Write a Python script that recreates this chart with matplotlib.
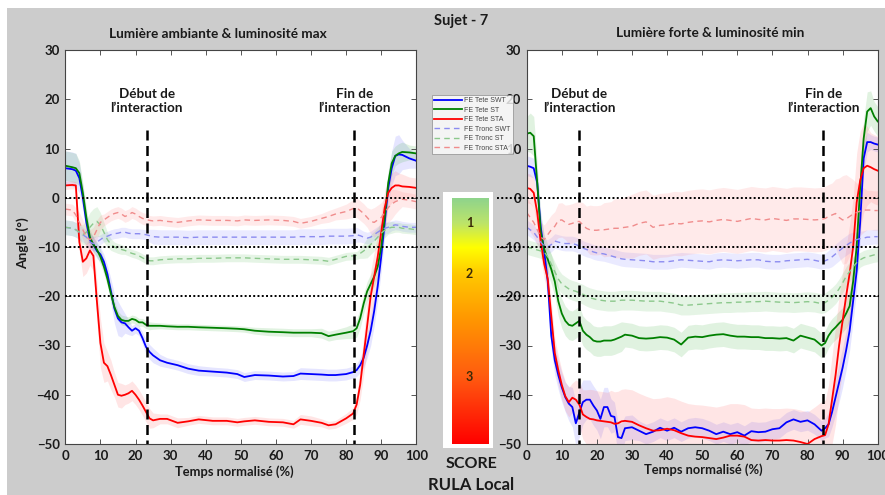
import numpy as np
import matplotlib
matplotlib.use("Agg")
import matplotlib.pyplot as plt
from matplotlib.colors import LinearSegmentedColormap
from matplotlib.patches import Rectangle

plt.rcParams['font.family'] = ['Lato', 'DejaVu Sans']

# ---- data : left panel (Lumiere ambiante & luminosite max) ----
tL = [0, 2, 3, 4, 5, 6, 7, 8, 9, 10,
      11, 12, 13, 14, 15, 16, 17, 18, 19, 20,
      21, 22, 23, 24, 25, 27, 29, 32, 35, 38,
      42, 46, 49, 51, 54, 58, 62, 65, 67, 70,
      73, 75, 77, 80, 82, 83, 84, 85, 86, 87,
      88, 89, 90, 91, 92, 93, 94, 95, 96, 98,
      100]

head_swt_L = [6, 5.8, 5.5, 4, 0, -5, -8.5, -9.5, -10.8, -11.5,
              -13, -15.5, -19, -22.5, -24.5, -25.3, -25.5, -26.3, -27, -26.5,
              -27, -28.5, -30.3, -31.3, -32, -33, -33.5, -34, -34.7, -35.1,
              -35.3, -35.5, -35.8, -36.4, -36, -36.1, -36.3, -36.2, -35.7, -35.8,
              -35.9, -36, -36, -35.8, -35.4, -35, -34, -32.5, -30, -27,
              -23, -18, -12, -5, 2, 6, 8.5, 8.8, 8.7, 8,
              7.5]
head_st_L = [6.5, 6.2, 6, 5, 1, -4, -8, -9.5, -10.5, -12,
             -14, -16.5, -19.5, -22.2, -24, -24.8, -25, -25, -24.6, -24.8,
             -25.3, -25.3, -25.8, -26, -26, -26, -26.1, -26.2, -26.2, -26.3,
             -26.4, -26.5, -26.6, -26.7, -27, -27.2, -27.3, -27.4, -27.4, -27.4,
             -27.5, -28.1, -27.8, -27.4, -27.1, -26.5, -24.5, -21.5, -19, -17.5,
             -16, -14, -10, -4, 3, 7, 8.5, 9, 9.3, 9.2,
             9]
head_sta_L = [2.5, 2.6, 2.5, -9, -13, -12.3, -10.7, -11.8, -21, -29.5,
              -33.5, -34.2, -36, -38, -40, -40.2, -40, -39.7, -39.2, -40,
              -41, -42.2, -43.5, -44.8, -45.2, -44.9, -44.9, -45.7, -45.4, -45,
              -45.3, -45.3, -45.6, -45.4, -45.2, -45.5, -45.6, -46, -45, -45.3,
              -45.7, -46.2, -46, -44.8, -43.8, -42, -38, -32, -26, -20,
              -16, -12, -7, -2, 1, 2, 2.5, 2.5, 2.3, 2.2,
              2]
trunk_swt_L = [-6, -6.2, -6.5, -7, -7.5, -8, -9, -9.3, -9, -8.5,
               -8, -7.8, -7.5, -7.3, -7.2, -7, -7, -7.2, -7.3, -7.3,
               -7.3, -7.4, -7.5, -7.7, -7.9, -8, -8, -8, -8.1, -8,
               -8, -8, -8, -8, -8, -8, -8, -8, -7.9, -7.9,
               -7.9, -7.8, -7.8, -7.8, -7.7, -7.5, -7.7, -8, -8.2, -8,
               -7.5, -7, -6.5, -6.2, -6, -5.7, -5.5, -5.6, -5.8, -6,
               -6]
trunk_st_L = [-6, -6.2, -6.5, -7, -7.5, -7, -6, -5.2, -4.8, -5.5,
              -7, -8.5, -9.5, -10, -10.3, -10.5, -10.7, -11, -11.3, -11.5,
              -11.8, -12.2, -12.6, -12.8, -12.8, -12.6, -12.5, -12.4, -12.4, -12.3,
              -12.3, -12.2, -12.2, -12.2, -12.3, -12.4, -12.5, -12.5, -12.5, -12.6,
              -12.7, -12.9, -12.5, -11.9, -11.8, -11.7, -11.3, -10.8, -10.2, -9.5,
              -8.8, -8, -7.2, -6.6, -6.2, -6, -6, -6, -6.2, -6.3,
              -6.5]
trunk_sta_L = [-2.3, -2.5, -3.5, -5, -6.5, -8, -8.5, -8, -6.5, -5,
               -4.5, -4, -3.5, -3.2, -3, -3.3, -3.8, -3.5, -3, -3.3,
               -3.8, -4.2, -4.4, -4.6, -4.7, -4.6, -4.8, -5, -4.7, -4.5,
               -4.6, -4.6, -4.7, -4.5, -4.6, -4.5, -4.6, -4.8, -5.2, -4.8,
               -4.2, -3.8, -3.3, -2.8, -2.2, -2, -2.6, -3.2, -4, -4.8,
               -5, -4.5, -4, -3, -2, -1.3, -0.8, -0.5, -0.3, -0.5,
               -0.8]

sd_head_swt_L = [3.5, 3.5, 3.5, 3, 2.5, 2, 1.5, 1.5, 1.5, 1.5,
                 1.5, 1.8, 2.5, 3, 3.5, 3, 2, 1.5, 1, 1,
                 1, 1.2, 1.5, 1.5, 1.5, 1.2, 1, 1, 1, 1,
                 0.9, 0.9, 0.9, 0.9, 0.9, 0.9, 0.9, 0.9, 1.2, 1.2,
                 1.2, 1.2, 1.2, 1.2, 1.2, 1.3, 1.5, 2, 2.5, 3,
                 3, 3, 3, 3, 3, 3.5, 4, 4, 3, 2,
                 1.5]
sd_head_st_L = [3, 3, 3, 2.5, 2, 2, 1.5, 1.5, 1.5, 1.5,
                1.5, 1.5, 1.5, 1.2, 1, 1, 1, 0.8, 0.8, 0.8,
                0.8, 0.8, 0.8, 0.8, 0.7, 0.6, 0.6, 0.6, 0.6, 0.6,
                0.6, 0.6, 0.6, 0.6, 0.7, 0.8, 0.8, 0.8, 0.8, 0.8,
                1, 1, 1, 1.2, 1.5, 1.8, 2, 2, 2, 2,
                2, 2, 2, 2.5, 2.5, 2.5, 2, 2, 2, 1.5,
                1.5]
sd_head_sta_L = [0.8, 0.8, 0.8, 2, 3, 3, 3, 3, 4, 5,
                 4, 3, 3, 2.5, 2.5, 2.5, 2, 2, 2, 2,
                 2, 2, 2, 2, 1.5, 1, 1, 1, 0.8, 0.8,
                 0.8, 0.8, 0.8, 0.8, 0.8, 0.8, 0.8, 0.8, 1, 1,
                 0.8, 0.8, 0.8, 1, 1.2, 2, 3, 4, 5, 5,
                 5, 4.5, 4, 3.5, 3, 3, 3, 2.5, 2.5, 2,
                 2]
sd_trunk_swt_L = [1.5, 1.5, 1.5, 1.5, 1.5, 1.5, 1.5, 1.5, 1.2, 1,
                  1, 1, 1, 1, 1, 1, 1, 1, 1, 1,
                  1, 1, 1, 1.3, 1.5, 1.5, 1.5, 1.5, 1.5, 1.5,
                  1.5, 1.5, 1.5, 1.5, 1.5, 1.5, 1.5, 1.5, 1.6, 1.6,
                  1.6, 1.6, 1.6, 1.6, 1.6, 1.5, 1.3, 1.2, 1.2, 1.2,
                  1.2, 1.2, 1.2, 1.2, 1.2, 1, 1, 1, 1, 1,
                  1]
sd_trunk_st_L = [1.5, 1.5, 1.5, 1.5, 2, 2.5, 3, 3, 3, 2.5,
                 2, 1.5, 1.2, 1, 1, 1, 0.8, 0.8, 0.8, 0.8,
                 0.8, 0.8, 0.8, 0.8, 0.8, 0.8, 0.8, 0.8, 0.8, 0.8,
                 0.8, 0.8, 0.8, 0.8, 0.8, 0.8, 0.8, 0.8, 0.8, 0.8,
                 0.8, 0.8, 0.8, 0.8, 0.8, 0.8, 1, 1.5, 2, 2,
                 2, 2, 2, 1.5, 1.2, 1.2, 1, 1, 1, 1,
                 1]
sd_trunk_sta_L = [1.2, 1.2, 1.5, 2, 2, 2, 2, 2, 2, 1.5,
                  1.2, 1.2, 1.2, 1.2, 1.2, 1.2, 1.2, 1.2, 1.2, 1.2,
                  1.2, 1.2, 1.2, 1, 1, 1, 1, 1, 1, 1,
                  1, 1, 1, 1, 1, 1, 1, 1, 1, 1,
                  1, 1.2, 1.2, 1.5, 1.8, 2, 2, 2, 2, 2.5,
                  3, 3, 3, 3, 3, 3, 2.5, 2, 1.5, 1.5,
                  1.5]

# ---- data : right panel (Lumiere forte & luminosite min) ----
tR = [0, 1, 2, 3, 4, 5, 6, 7, 8, 9,
      10, 11, 12, 13, 14, 15, 16, 17, 18, 19,
      20, 21, 22, 23, 24, 25, 26, 27, 28, 30,
      32, 34, 36, 38, 40, 42, 44, 46, 48, 50,
      52, 54, 56, 58, 60, 62, 64, 66, 68, 70,
      72, 74, 76, 78, 80, 82, 84, 85, 86, 87,
      88, 89, 90, 91, 92, 93, 94, 95, 96, 97,
      98, 99, 100]

head_swt_R = [6.5, 6.3, 6, 3, -6, -11, -17, -28, -33, -36,
              -38.5, -40.5, -41.8, -42.5, -45.8, -43.6, -41.5, -41, -41, -42.2,
              -43.2, -44.9, -42.5, -42.5, -44.3, -44.5, -48.6, -48.8, -46.8, -46.6,
              -47.3, -48, -47.5, -46.7, -47.3, -46.7, -47.5, -46.8, -46.6, -46.8,
              -47.3, -48, -47.5, -48, -47.6, -48.3, -47.4, -47.6, -47.5, -47,
              -46.8, -45.6, -45, -45.5, -45.2, -46, -47.3, -46.8, -46, -43.5,
              -40.5, -37.5, -34.5, -31, -27, -21, -15, -5, 8, 11.3,
              11.3, 11, 10.8]
head_st_R = [13, 13.2, 12.5, 3, -7, -10.5, -12.5, -14.5, -17, -21,
             -23.5, -25, -25.8, -26, -25.5, -25, -27, -27.8, -28.3, -29,
             -29.2, -29.2, -29, -29, -29, -28.8, -28.5, -28.2, -27.8, -28,
             -28.5, -28.6, -28.5, -28.3, -28.4, -28.8, -29.8, -28.4, -28.2, -28.3,
             -28, -27.8, -27.7, -28, -28.2, -28.2, -28.3, -28.3, -28.5, -28.5,
             -28.6, -28.5, -29, -28, -28.4, -28.8, -30, -29.5, -28, -27,
             -26.3, -25.5, -24.8, -23.5, -22, -17, -10, 2, 12, 17.5,
             18.2, 16.5, 15.5]
head_sta_R = [2, 1.8, 1, -3, -9, -13.5, -16.5, -24, -31.5, -35,
              -38, -40.3, -41.5, -40.6, -41, -42, -44, -44.5, -44.9, -45,
              -45.2, -45.3, -45.4, -45.5, -45.6, -45.9, -45.8, -45.4, -45.3, -45.5,
              -46.2, -46.8, -47.3, -47.2, -46.9, -47.2, -47.8, -48.3, -48.5, -48.6,
              -48.8, -49, -48.7, -48.3, -48.3, -48.5, -49.2, -49.3, -49.2, -49.3,
              -49.3, -49.2, -49.3, -49.6, -50, -49, -48.4, -48.2, -46, -41,
              -36, -30, -25, -20, -15.4, -10, -1, 3.5, 6, 6.5,
              6.2, 5.8, 5.5]
trunk_swt_R = [-6, -6.5, -7, -8, -9, -9.8, -10, -9.5, -8.8, -9,
               -9.2, -9.3, -9.3, -9.3, -9.5, -9.8, -10.2, -10.5, -10.7, -11,
               -11.2, -11.3, -11.4, -11.6, -11.8, -12, -12.2, -12.4, -12.5, -12.6,
               -12.7, -12.8, -13, -13, -13, -12.8, -12.6, -12.7, -12.8, -12.9,
               -13, -12.7, -12.6, -12.7, -12.8, -12.7, -12.6, -12.6, -12.9, -13,
               -13, -12.8, -12.7, -12.6, -12.5, -12.7, -13, -12.8, -12.5, -12,
               -11.4, -10.8, -10.2, -9.7, -9.2, -8.8, -8.5, -8.3, -8.2, -8,
               -8, -7.9, -7.9]
trunk_st_R = [-10, -10.2, -10.4, -10.6, -10.8, -11, -12, -13.5, -15, -16.5,
              -17.5, -18, -18.5, -18.8, -19, -19.3, -19.6, -20, -20.3, -20.5,
              -20.7, -20.8, -20.9, -21, -21, -21, -20.9, -20.8, -20.8, -20.8,
              -20.9, -21, -21, -21, -21.2, -21.4, -21.8, -21.8, -21.7, -21.6,
              -21.5, -21.4, -21.3, -21.3, -21.2, -21.2, -21.1, -21.1, -21, -21.1,
              -21.2, -21.2, -21.3, -21.2, -21.1, -21.2, -21.5, -21.3, -20.8, -20.2,
              -19.5, -18.5, -17.3, -16, -15, -14, -13.2, -12.6, -12.2, -12,
              -11.8, -11.6, -11.5]
trunk_sta_R = [-3, -4, -5, -6.5, -8, -8.5, -7.5, -6.5, -5.8, -4.6,
               -4.5, -5, -5.4, -5.2, -4.9, -4.8, -5.5, -6.2, -6.5, -6.6,
               -6.6, -6.5, -6.5, -6.4, -6.3, -6.2, -6.2, -6.1, -6, -5.8,
               -5.2, -4.9, -6, -5.6, -5.5, -5.2, -5.3, -5, -4.8, -4.7,
               -4.9, -4.6, -4.4, -4.6, -4.8, -4.5, -4.2, -4.4, -4.5, -4.2,
               -4.4, -4.6, -4.3, -4.3, -4.4, -4.5, -4.4, -4.2, -3.8, -3.5,
               -3.2, -4, -4.5, -4.3, -3.8, -3.3, -3, -2.7, -2.5, -2.5,
               -2.5, -2.6, -2.6]

sd_head_swt_R = [2, 2, 2, 2.5, 3, 3, 3, 3, 3, 3,
                 3, 3, 3.5, 4, 4.5, 5, 4.5, 4, 4, 4,
                 4, 4, 4, 4, 3.5, 3, 3, 3, 2.5, 2.5,
                 2, 2, 2, 2, 2, 2, 2, 2, 2, 2,
                 2, 2, 2, 2, 2, 2, 2, 2, 2, 2,
                 2, 2, 2, 2, 2, 2, 2, 2, 2.5, 3,
                 3.5, 4, 4, 4, 4, 4, 4, 4, 3, 2,
                 1.5, 1.5, 1.5]
sd_head_st_R = [3.5, 4, 4, 4, 3.5, 3, 3, 3, 3, 3,
                3, 3, 3, 3, 3, 3, 3, 3, 3, 3,
                3, 3, 3, 3, 3, 3, 3, 3, 2.5, 2.5,
                2.5, 2.5, 2.5, 2.5, 2.5, 2.5, 2.5, 2.5, 2.5, 2.5,
                2.5, 2.5, 2.5, 2.5, 2.5, 2.5, 2.5, 2.5, 2.5, 2.5,
                2.5, 2.5, 2.5, 2.5, 2.5, 2.5, 2.5, 2.5, 2.5, 2.5,
                2.5, 2.5, 2.5, 3, 3, 3, 3.5, 4, 4, 4,
                3.5, 3, 3]
sd_head_sta_R = [3, 3, 3, 3, 3, 3, 3, 3, 3, 3,
                 3, 3, 3, 3, 4, 4.5, 5, 5.5, 6, 6,
                 6, 6, 6, 6, 6.5, 6.5, 6.5, 6.5, 6.5, 6.5,
                 6.5, 6.5, 6.5, 6.5, 6.5, 6.5, 6.5, 6.5, 6.5, 6.5,
                 6.5, 6.5, 6.5, 6.5, 6.5, 6.5, 6.5, 6.5, 6.5, 6.5,
                 6.5, 6.5, 6.5, 6.5, 6.5, 6.5, 7, 7, 8, 9,
                 10, 10, 10, 10, 10, 10, 10, 10, 9, 8,
                 7, 7, 7]
sd_trunk_swt_R = [1.5, 1.5, 1.5, 1.5, 1.5, 1.5, 1.5, 1.5, 1.5, 1.5,
                  1.5, 1.5, 1.5, 1.5, 1.5, 1.5, 1.5, 1.5, 1.5, 1.5,
                  1.5, 1.5, 1.5, 1.5, 1.5, 1.5, 1.5, 1.5, 1.5, 1.5,
                  1.5, 1.5, 1.5, 1.5, 1.5, 1.5, 1.5, 1.5, 1.5, 1.5,
                  1.5, 1.5, 1.5, 1.5, 1.5, 1.5, 1.5, 1.5, 1.5, 1.5,
                  1.5, 1.5, 1.5, 1.5, 1.5, 1.5, 1.5, 1.5, 1.8, 2,
                  2, 2, 2, 2, 2, 1.8, 1.5, 1.5, 1.5, 1.5,
                  1.5, 1.5, 1.5]
sd_trunk_st_R = [1.5, 1.5, 1.5, 1.5, 1.5, 1.5, 1.8, 2, 2, 2,
                 2, 2, 2, 2, 2, 2, 2, 2, 2, 2,
                 2, 2, 2, 2, 2, 2, 2, 2, 2, 2,
                 2, 2, 2, 2, 2, 2, 2, 2, 2, 2,
                 2, 2, 2, 2, 2, 2, 2, 2, 2, 2,
                 2, 2, 2, 2, 2, 2, 2, 2, 2, 2,
                 2, 2, 2, 2, 2, 2, 1.8, 1.5, 1.5, 1.5,
                 1.5, 1.5, 1.5]
sd_trunk_sta_R = [3, 3, 3, 3, 3, 3, 3, 3, 3, 3.5,
                  3.5, 3.5, 4, 4, 4, 4, 4.5, 4.5, 5, 5,
                  5, 5, 5.5, 5.5, 5.5, 6, 6, 6, 6.2, 6.5,
                  6.5, 6.5, 6.5, 6.5, 6.5, 6.5, 6.5, 6.5, 6.5, 6.5,
                  6.5, 6.5, 6.5, 6.5, 6.5, 6.5, 6.5, 6.5, 6.5, 6.5,
                  6.5, 6.5, 6.5, 6.5, 6.5, 6.5, 6.5, 6.5, 6.5, 6.5,
                  7, 8, 9, 9, 8, 7, 6, 5, 4.5, 4,
                  4, 4, 4]

labels = ['FE Tete SWT', 'FE Tete ST', 'FE Tete STA',
          'FE Tronc SWT', 'FE Tronc ST', 'FE Tronc STA']
line_colors = ['#0000ff', '#008000', '#ff0000', '#8c8cf0', '#8cc88c', '#f08c8c']
band_colors = ['#6060ff', '#40b040', '#ff6060', '#8080ff', '#60c060', '#ff8080']
styles = ['-', '-', '-', '--', '--', '--']

interaction_L = [23.2, 82.3]
interaction_R = [15.0, 84.5]
score_lines = [0, -10, -20]

W, H = 885, 495
fig = plt.figure(figsize=(W / 100, H / 100), dpi=100, facecolor='white')
fig.patches.append(Rectangle((7 / W, 0), 1 - 7 / W, 1 - 8 / H, transform=fig.transFigure,
                             facecolor='#cccccc', edgecolor='none', zorder=-10))

TXT = '#1a1a1a'


def fx(px):
    return px / W


def fy(py):
    return 1 - py / H


def panel(rect, t, means, sds, lines, dot_x):
    ax = fig.add_axes(rect)
    ax.set_facecolor('white')
    for m, s, lc, bc, ls in zip(means, sds, line_colors, band_colors, styles):
        m = np.array(m)
        s = np.array(s)
        ax.fill_between(t, m - s, m + s, color=bc, alpha=0.16, lw=0)
    for m, lc, ls in zip(means, line_colors, styles):
        ax.plot(t, m, color=lc, ls=ls, lw=1.3 if ls == '-' else 1.0,
                dashes=(4, 3) if ls == '--' else (None, None))
    for v in score_lines:
        ax.plot(dot_x, [v, v], color='black', ls=(0, (1, 1.2)), lw=1.4,
                clip_on=False, zorder=6)
    for xv in lines:
        ax.plot([xv, xv], [13.8, -50], color='black', ls=(0, (4, 2.2)), lw=1.8, zorder=6)
    ax.set_xlim(0, 100)
    ax.set_ylim(-50, 30)
    ax.set_xticks(range(0, 101, 10))
    ax.set_yticks(range(-50, 31, 10))
    ax.tick_params(direction='in', length=3.5, width=0.7, top=True, right=True,
                   labelsize=9.5, colors='#555555', labelcolor=TXT, pad=4)
    for lab in ax.get_xticklabels() + ax.get_yticklabels():
        lab.set_fontweight('bold')
    for sp in ax.spines.values():
        sp.set_color('#444444')
        sp.set_linewidth(0.8)
    return ax


axL = panel([fx(65.3), fy(444), fx(351), 394 / H], tL,
            [head_swt_L, head_st_L, head_sta_L, trunk_swt_L, trunk_st_L, trunk_sta_L],
            [sd_head_swt_L, sd_head_st_L, sd_head_sta_L, sd_trunk_swt_L, sd_trunk_st_L, sd_trunk_sta_L],
            interaction_L, [0, 106.7])
axR = panel([fx(526.7), fy(444), fx(351), 394 / H], tR,
            [head_swt_R, head_st_R, head_sta_R, trunk_swt_R, trunk_st_R, trunk_sta_R],
            [sd_head_swt_R, sd_head_st_R, sd_head_sta_R, sd_trunk_swt_R, sd_trunk_st_R, sd_trunk_sta_R],
            interaction_R, [-8.5, 100.5])

# interaction annotations
for ax, xs in [(axL, interaction_L), (axR, interaction_R)]:
    ax.text(xs[0], 19.7, 'Début de\nl\u2019interaction', ha='center', va='center',
            fontsize=9.7, fontweight='bold', color=TXT, linespacing=1.2)
    ax.text(xs[1], 19.7, 'Fin de\nl\u2019interaction', ha='center', va='center',
            fontsize=9.7, fontweight='bold', color=TXT, linespacing=1.2)

# titles and labels
fig.text(fx(461), fy(21), 'Sujet - 7', ha='center', va='center', fontsize=10.5,
         fontweight='bold', color=TXT)
fig.text(fx(217.5), fy(34), 'Lumière ambiante & luminosité max', ha='center', va='center',
         fontsize=9.8, fontweight='bold', color=TXT)
fig.text(fx(710), fy(33), 'Lumière forte & luminosité min', ha='center', va='center',
         fontsize=9.8, fontweight='bold', color=TXT)
fig.text(fx(234), fy(472), 'Temps normalisé (%)', ha='center', va='center',
         fontsize=9.3, fontweight='bold', color=TXT)
fig.text(fx(703), fy(470), 'Temps normalisé (%)', ha='center', va='center',
         fontsize=9.3, fontweight='bold', color=TXT)
fig.text(fx(22.5), fy(243), 'Angle (°)', ha='center', va='center', rotation=90,
         fontsize=9.8, fontweight='bold', color=TXT)

# legend
handles = axL.get_lines()[:6]
leg = fig.legend(handles, labels, loc='upper left', bbox_to_anchor=(fx(432), fy(95)),
                 prop={'family': 'Liberation Sans', 'size': 5}, frameon=True,
                 fancybox=False, edgecolor='#888888', handlelength=4.0,
                 handletextpad=0.3, labelspacing=0.35, borderpad=0.35,
                 borderaxespad=0)
leg.get_frame().set_linewidth(0.6)
for txt in leg.get_texts():
    txt.set_color('#444444')

# RULA score colour bar
box = fig.add_axes([fx(443), fy(448), fx(50), 256 / H])
box.set_facecolor('white')
box.set_xticks([])
box.set_yticks([])
for sp in box.spines.values():
    sp.set_visible(False)

rula = LinearSegmentedColormap.from_list('rula', [
    (0.0, '#8fd48c'), (0.1, '#bce46a'), (0.2, '#ffff00'), (0.31, '#ffc800'),
    (0.48, '#ff9a00'), (0.73, '#ff5a10'), (1.0, '#ff0000')])
cax = fig.add_axes([fx(452), fy(444), fx(37), 246 / H])
cax.imshow(np.linspace(0, 1, 256).reshape(-1, 1), aspect='auto', cmap=rula)
cax.set_xticks([])
cax.set_yticks([])
for sp in cax.spines.values():
    sp.set_visible(False)

for lab, py in [('1', 223), ('2', 274), ('3', 377)]:
    fig.text(fx(469.5), fy(py), lab, ha='center', va='center', fontsize=9,
             fontweight='bold', color='#3a2a08')
fig.text(fx(471), fy(464), 'SCORE', ha='center', va='center', fontsize=11.5,
         fontweight='bold', color=TXT)
fig.text(fx(471), fy(485), 'RULA Local', ha='center', va='center', fontsize=12,
         fontweight='bold', color=TXT)

fig.savefig('out.png', dpi=100, facecolor=fig.get_facecolor())
